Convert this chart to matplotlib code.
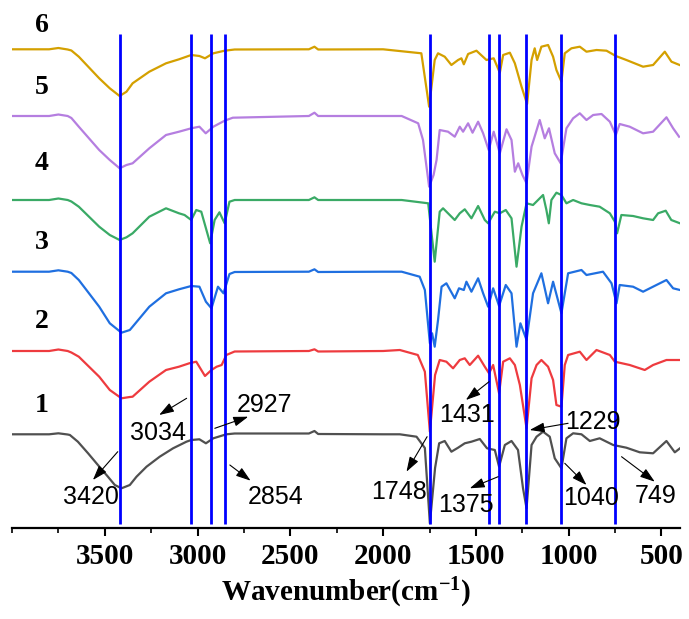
import matplotlib
matplotlib.use('Agg')
import matplotlib.pyplot as plt
from matplotlib.ticker import MultipleLocator
import numpy as np

# FTIR spectra, transmittance in arbitrary units (already stacked)
wn1 = [4000, 3800, 3750, 3700, 3688, 3645, 3590, 3537, 3483, 3446, 3410, 3365, 3329, 3275, 3204, 3132,
       3060, 3034, 2990, 2955, 2915, 2845,
       2800, 2400, 2370, 2350, 2000, 1910, 1820, 1775, 1748, 1720, 1698, 1668, 1632, 1596, 1560, 1524,
       1479, 1440, 1398, 1375, 1344, 1308, 1273, 1246, 1227, 1200, 1173, 1138, 1102, 1075, 1039, 1012,
       976, 931, 886, 833, 760, 689, 617, 545, 473, 428, 400]
t1 = [93.7, 93.7, 94.7, 93.5, 93.0, 86.3, 74.7, 63.0, 51.3, 43.0, 39.7, 43.0, 51.3, 61.3, 71.3, 79.7,
      86.3, 88.0, 88.7, 84.7, 89.7, 93.7,
      94.5, 94.5, 97.0, 94.0, 93.7, 93.7, 91.3, 80.0, 4.7, 60.0, 84.7, 87.0, 76.3, 80.3, 84.7, 86.3,
      89.0, 79.7, 78.0, 61.3, 83.0, 87.0, 78.0, 39.7, 19.7, 83.0, 91.3, 96.3, 91.3, 69.7, 59.7, 89.7,
      94.7, 93.7, 87.0, 89.7, 83.0, 80.3, 75.7, 74.7, 87.0, 75.7, 79.7]

wn2 = [4000, 3800, 3750, 3700, 3680, 3640, 3530, 3473, 3410, 3365, 3350, 3260, 3170, 3100, 3045, 3007,
       2960, 2925, 2897,
       2870, 2845, 2800, 2400, 2370, 2350, 2000, 1910, 1813, 1775, 1748, 1720, 1695, 1659, 1623, 1587,
       1560, 1533, 1488, 1452, 1429, 1407, 1375, 1353, 1317, 1290, 1263, 1227, 1200, 1173, 1147, 1111,
       1084, 1066, 1039, 1021, 1003, 940, 904, 850, 778, 751, 671, 590, 545, 473, 400]
t2 = [177, 177, 178.5, 177, 175.5, 171.3, 151.3, 138, 129.7, 131, 131.3, 146.3, 158, 161.3, 164.7, 166.3,
      152, 158, 161.3,
      163, 173, 176.5, 177, 178.7, 176.5, 177, 178, 173, 156.3, 96.3, 153, 168, 166.3, 159.7, 168,
      169.7, 163, 172.3, 161.3, 154.7, 163, 134.7, 166.3, 169.7, 163, 143, 99.7, 149.7, 163, 168, 161.3,
      148, 123, 121.3, 163, 173, 176.3, 168, 178, 173, 166.3, 163, 158, 163, 168, 168]

wn3 = [4000, 3800, 3750, 3700, 3680, 3640, 3530, 3473, 3410, 3365, 3350, 3260, 3170, 3100, 3034, 2990,
       2955, 2925, 2890,
       2860, 2828, 2800, 2400, 2370, 2350, 2000, 1900, 1803, 1775, 1748, 1736, 1722, 1704, 1685, 1659,
       1614, 1591, 1565, 1551, 1524, 1488, 1461, 1434, 1407, 1375, 1339, 1308, 1281, 1260, 1227, 1192,
       1147, 1111, 1084, 1039, 1003, 931, 904, 815, 769, 742, 725, 653, 599, 527, 473, 437, 400]
t3 = [256.3, 256.3, 257.7, 256.3, 255, 248, 221.3, 204.7, 195.3, 198, 201.3, 221.3, 234.7, 238.7, 242, 241.3,
      226.3, 219.7, 241.3,
      234.7, 254, 256, 256.3, 258.7, 256, 256.3, 256.3, 251.3, 238, 184.7, 194.7, 181.3, 208, 241.3, 244.7,
      229.7, 239.7, 238, 246.3, 236.3, 249.7, 234.7, 221.3, 239.7, 222, 243, 234.7, 181.3, 204.7, 188, 234.7,
      254.7, 224.7, 246.3, 214.7, 254.7, 258, 253, 256.3, 244.7, 224.7, 243, 241.3, 236.3, 243, 248, 239.7, 238]

wn4 = [4000, 3800, 3750, 3700, 3680, 3640, 3530, 3473, 3420, 3383, 3350, 3260, 3170, 3100, 3070, 3034,
       3007, 2980, 2932,
       2908, 2882, 2854, 2828, 2800, 2400, 2370, 2350, 1900, 1757, 1722, 1695, 1677, 1641, 1614, 1587,
       1560, 1524, 1488, 1452, 1434, 1398, 1371, 1339, 1308, 1281, 1254, 1227, 1192, 1138, 1120, 1107,
       1093, 1066, 1039, 1012, 976, 931, 886, 833, 778, 751, 739, 716, 653, 599, 545, 518, 477, 447, 400]
t4 = [328, 328, 329.5, 328, 326.5, 321.3, 301.3, 293, 288, 290.7, 294.7, 311.3, 319.7, 314.7, 313, 308,
      318, 316.3, 284.7,
      308, 315.7, 304.7, 326.3, 328, 328, 330.7, 328, 328, 324.7, 266.3, 316.3, 319.7, 313, 308, 314.7,
      318.7, 309.7, 322, 308, 304.7, 316.3, 314.7, 318, 309.7, 261.3, 301.3, 324.7, 323, 333, 318, 304.7,
      328, 335.3, 333, 324.7, 328, 324.7, 323, 321.3, 314.7, 306.3, 294.7, 313, 312, 309.7, 308, 314.7, 317.3, 308, 304.7]

wn5 = [4000, 3800, 3750, 3700, 3680, 3640, 3530, 3473, 3420, 3383, 3350, 3260, 3170, 3100, 3034, 2990,
       2956, 2915, 2854,
       2810, 2400, 2370, 2350, 1900, 1811, 1785, 1752, 1728, 1712, 1695, 1650, 1614, 1587, 1569, 1542,
       1518, 1488, 1461, 1431, 1404, 1371, 1335, 1308, 1290, 1272, 1249, 1227, 1200, 1156, 1129, 1106,
       1075, 1043, 1012, 976, 940, 904, 868, 823, 778, 746, 725, 671, 599, 545, 473, 437, 405]
t5 = [412, 412, 413.5, 412, 410, 401.3, 378, 368, 359.7, 363, 364.7, 379.7, 393, 396.3, 399.7, 401.3,
      394.7, 401.3, 407.3,
      410.3, 412, 415.3, 412, 412, 404.7, 388, 341.3, 353, 368, 398, 396.3, 391.3, 401.3, 396.3, 404.7,
      395.3, 406.3, 394.7, 378, 396.3, 374.7, 398.7, 388, 356.3, 364.7, 353, 344.7, 381.3, 408, 389.7, 399.7,
      374.7, 364.7, 399.7, 409.7, 414.7, 408, 413, 414, 406.3, 393, 404, 401.3, 394.7, 396.3, 410.7, 399.7, 391.3]

wn6 = [4000, 3800, 3750, 3700, 3680, 3640, 3530, 3473, 3420, 3383, 3350, 3260, 3170, 3100, 3034, 2990,
       2960, 2915, 2854,
       2800, 2400, 2370, 2350, 2000, 1794, 1752, 1722, 1704, 1668, 1632, 1596, 1578, 1565, 1542, 1497,
       1443, 1404, 1371, 1353, 1317, 1290, 1254, 1224, 1200, 1183, 1170, 1147, 1111, 1084, 1066, 1039,
       1021, 985, 940, 904, 850, 796, 746, 689, 599, 545, 482, 446, 402]
t6 = [478.7, 478.7, 480, 478.5, 477.5, 471.3, 449.7, 439.7, 432, 436.3, 444.7, 456.3, 464.7, 468.7, 473, 472,
      469.7, 474.7, 477.3,
      478.5, 478.7, 481.3, 478.5, 478.7, 474.7, 421.3, 468, 474.7, 471.3, 463, 468, 469.7, 463.7, 474, 477.3,
      468, 469.7, 455.3, 473, 475.3, 464.7, 441.3, 424, 468, 479.7, 468, 481.3, 483, 471.3, 458, 446.3,
      474.7, 479.7, 481.3, 476.3, 478, 477.3, 472, 468, 461.3, 463, 476.3, 466.3, 463]

peaks = [3420, 3034, 2927, 2854, 1748, 1431, 1375, 1229, 1040, 749]
sample_names = ['1', '2', '3', '4', '5', '6']
colors = ['#505050', '#ee3b3f', '#1f6fe0', '#3aaa66', '#b57ee0', '#d4a000']


def main():
    plt.rcParams['mathtext.fontset'] = 'custom'
    plt.rcParams['mathtext.bf'] = 'Liberation Serif:bold'
    plt.rcParams['mathtext.rm'] = 'Liberation Serif:bold'
    plt.rcParams['mathtext.default'] = 'bf'

    fig = plt.figure(figsize=(6.89, 6.19), dpi=100)
    ax = fig.add_axes([12 / 689, 91 / 619, 668 / 689, 518 / 619])

    series = [(wn1, t1), (wn2, t2), (wn3, t3), (wn4, t4), (wn5, t5), (wn6, t6)]
    for (wn, t), c in zip(series, colors):
        ax.plot(wn, t, color=c, lw=1.6, zorder=2)

    # marker lines for the assigned bands
    ax.vlines(peaks, 4, 494, colors='#0000ff', lw=2, zorder=3)

    # sample numbers on the left
    name_y = [122, 206, 285.5, 365, 440.5, 503]
    for name, y in zip(sample_names, name_y):
        ax.text(3839, y, name, ha='center', va='center', fontsize=20,
                fontweight='bold', family='Liberation Serif')

    # band labels: (text, text pos, arrow tail, arrow tip)
    labels = [
        ('3420', (3575, 31), (3430, 76.3), (3564, 48)),
        ('3034', (3213, 95), (3059, 129.7), (3207, 113)),
        ('2927', (2637, 123), (2907, 99.7), (2727, 111.3)),
        ('2854', (2578, 30.5), (2826, 63), (2714, 47.3)),
        ('1748', (1916, 36.3), (1763, 91.3), (1874, 56.3)),
        ('1431', (1546, 113), (1429, 146.3), (1554, 128)),
        ('1375', (1551, 23), (1380, 51.3), (1533, 39.7)),
        ('1229', (868, 106.3), (1003, 104.7), (1210, 98)),
        ('1040', (877, 30), (1021, 64.7), (904, 43)),
        ('749', (531, 32), (715, 71.3), (536, 46.3)),
    ]
    for txt, pos, tail, tip in labels:
        ax.text(pos[0], pos[1], txt, ha='center', va='center', fontsize=18,
                family='Liberation Sans', zorder=4)
        ax.annotate('', xy=tip, xytext=tail,
                    arrowprops=dict(arrowstyle='-|>,head_length=0.45,head_width=0.15',
                                    color='black', lw=0.8,
                                    mutation_scale=20, shrinkA=0, shrinkB=0),
                    zorder=4)

    ax.set_xlim(4000, 400)
    ax.set_ylim(0, 518)
    ax.set_xticks([3500, 3000, 2500, 2000, 1500, 1000, 500])
    ax.xaxis.set_minor_locator(MultipleLocator(250))
    ax.set_yticks([])
    for s in ['left', 'top', 'right']:
        ax.spines[s].set_visible(False)
    ax.spines['bottom'].set_linewidth(1.6)
    ax.tick_params(axis='x', which='major', direction='out', length=6, width=1.5, pad=5)
    ax.tick_params(axis='x', which='minor', direction='out', length=3.5, width=1.2)
    for lab in ax.get_xticklabels():
        lab.set_family('Liberation Serif')
        lab.set_fontweight('bold')
        lab.set_fontsize(21)
    ax.set_xlabel('Wavenumber(cm$^{-1}$)', fontsize=21, fontweight='bold',
                  family='Liberation Serif', labelpad=4)

    fig.savefig('out.png', dpi=100)


if __name__ == '__main__':
    main()
